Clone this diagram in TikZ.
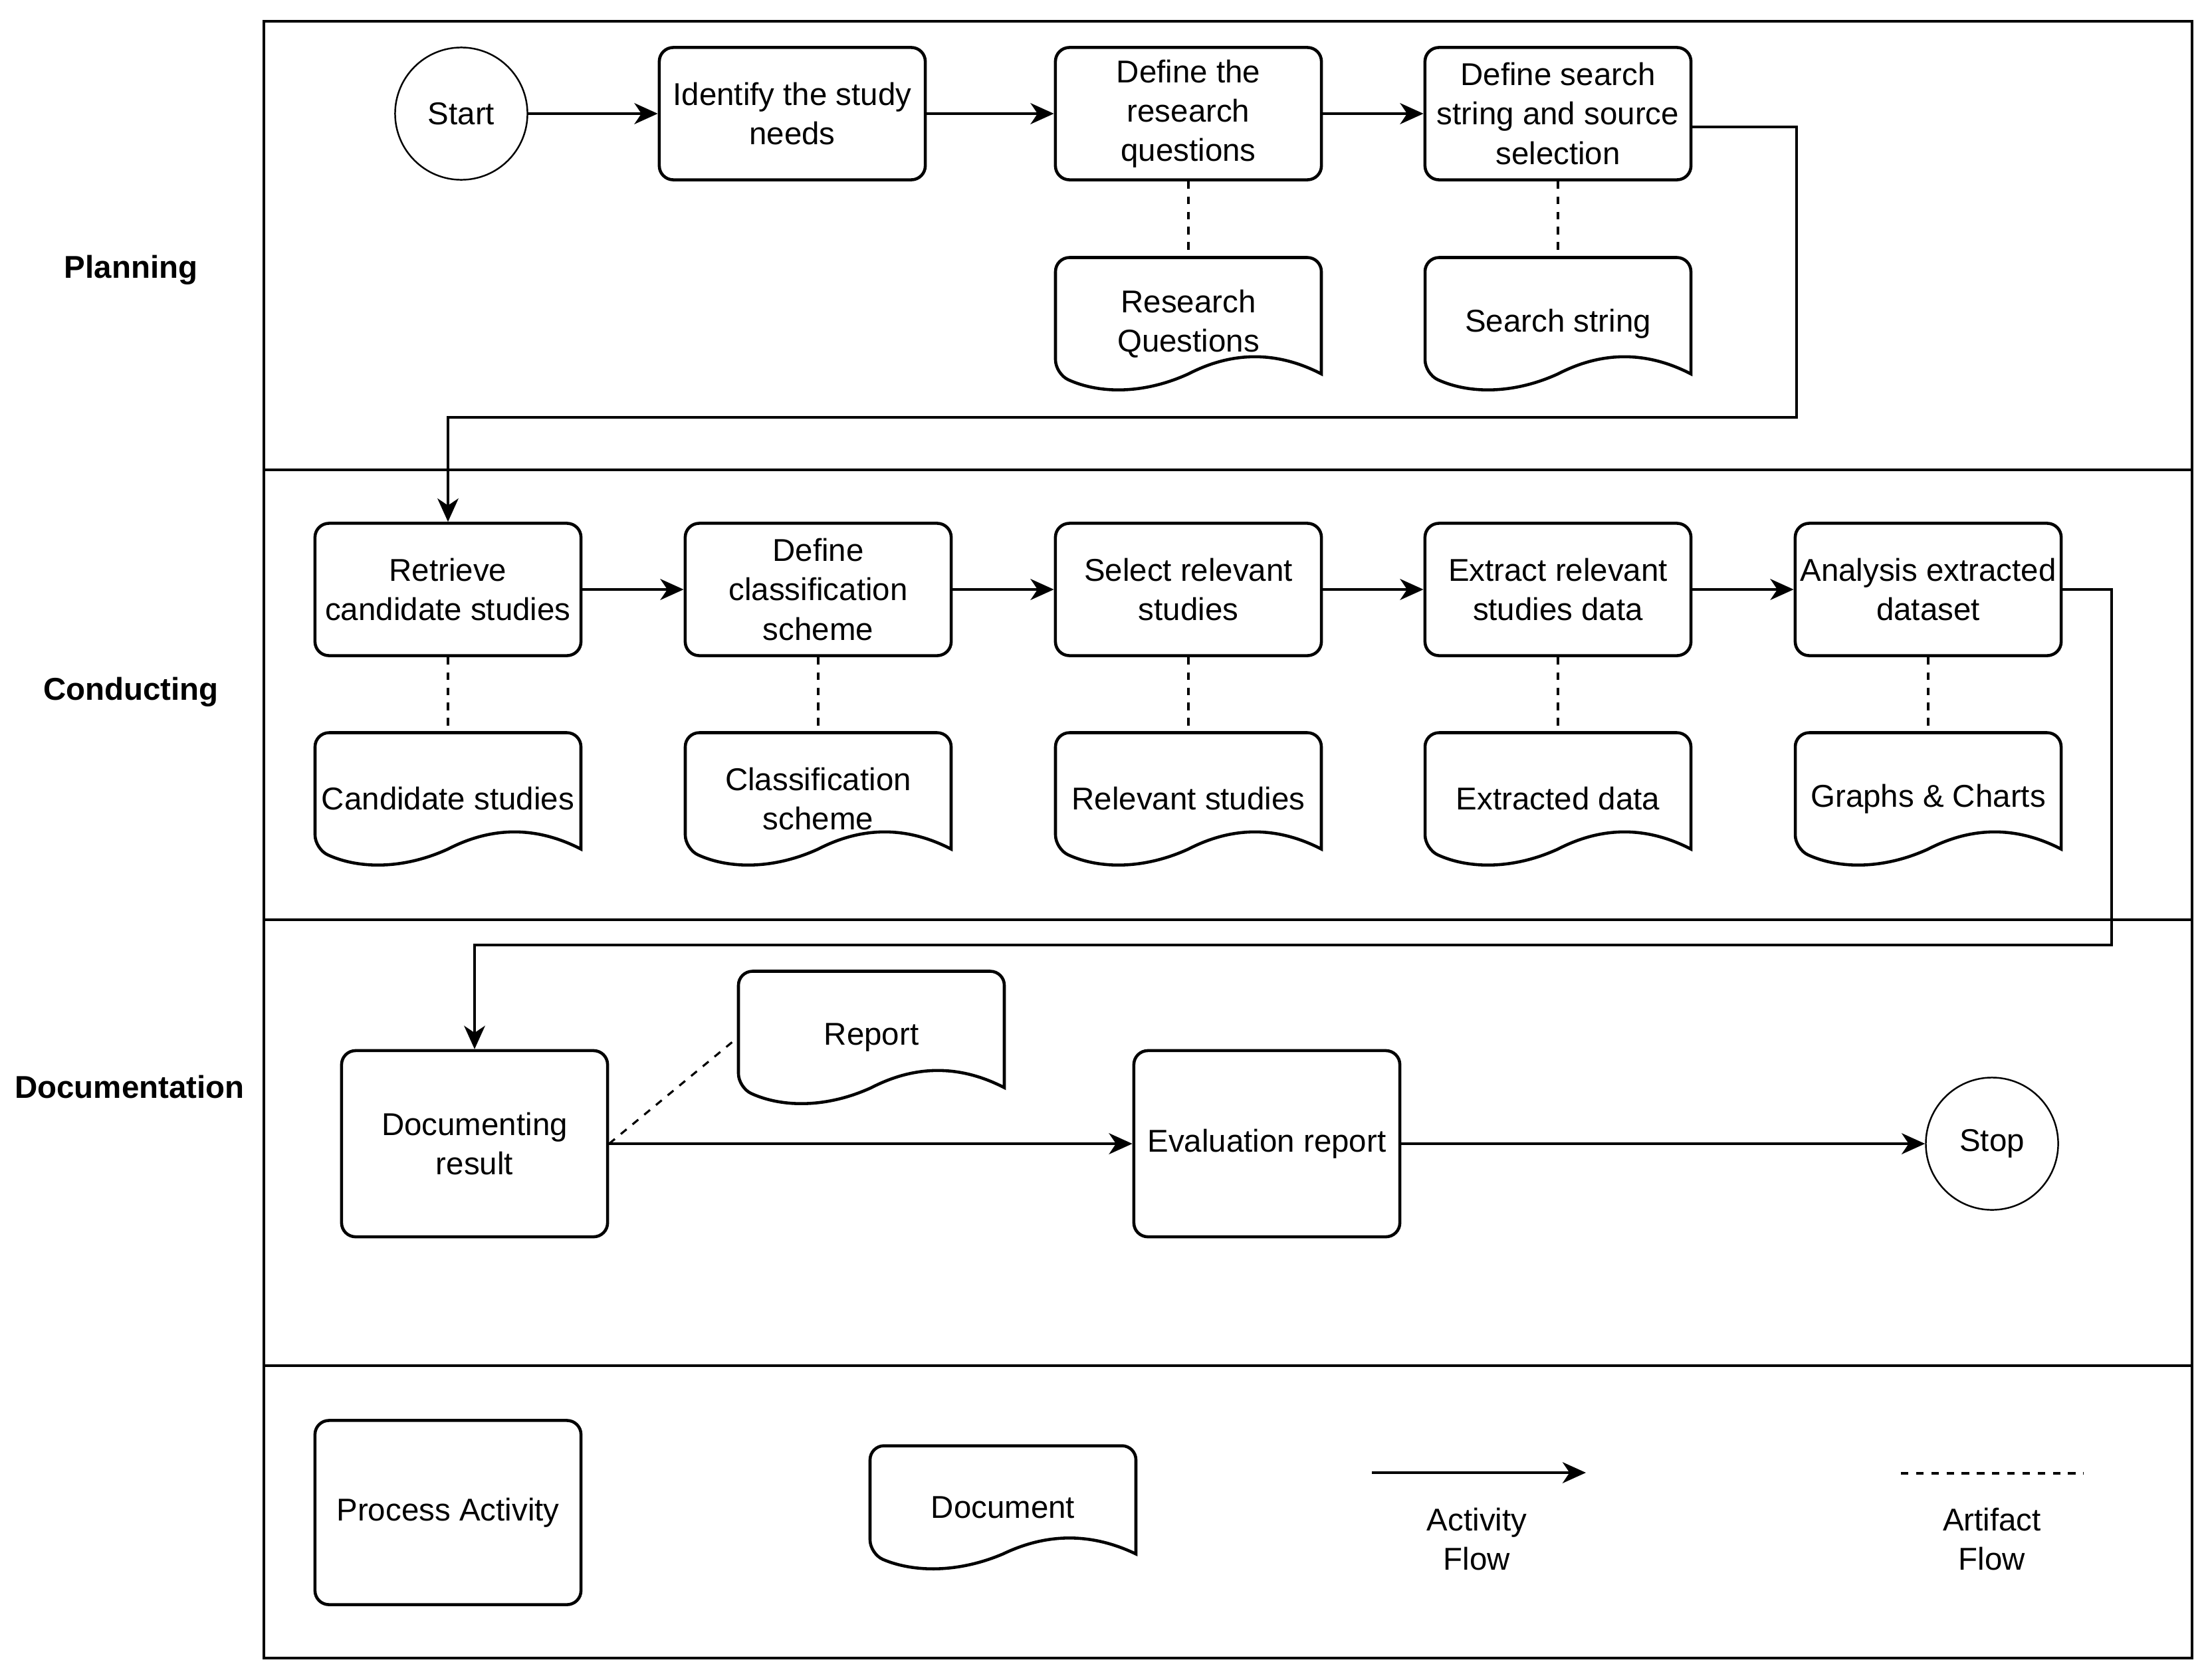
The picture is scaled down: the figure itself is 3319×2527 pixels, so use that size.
\documentclass[tikz,border=0pt]{standalone}
\usepackage{fontspec}
\setmainfont{Liberation Sans}
\usetikzlibrary{arrows.meta,calc}
\newcommand\dfont{\fontsize{13.5pt}{16.8pt}\selectfont}
\tikzset{
  proc/.style={draw, line width=1.3pt, rounded corners=6pt, minimum width=4cm,
    minimum height=1.99cm, align=center, inner sep=0pt},
  docbox/.style={minimum width=4cm, align=center, inner sep=0pt},
  docline/.style={line width=1.3pt},
  term/.style={draw, circle, line width=0.7pt, minimum size=1.99cm, inner sep=0pt},
  flow/.style={-{Stealth[length=10pt,width=9pt,inset=3pt]}, line width=1pt},
  artifact/.style={dash pattern=on 3.2pt off 3.3pt, line width=0.9pt},
  frameline/.style={line width=1.1pt},
  laneline/.style={line width=0.9pt},
  lanelabel/.style={font=\dfont\bfseries},
  legtext/.style={align=center}
}
% name, cx, cy, height(px), text
\newcommand\mkdoc[5]{%
  \node[docbox, minimum height=#4*0.01cm] (#1) at (#2,#3) {#5};
  \begin{scope}[shift={(#2,#3)}]
    \draw[docline] (200,{0.38*#4}) [rounded corners=6pt] -- (200,{-0.5*#4})
      -- (-200,{-0.5*#4}) -- (-200,{0.38*#4}) [sharp corners]
      .. controls (-133.3,{0.533*#4}) and (-66.7,{0.533*#4}) .. (0,{0.38*#4})
      .. controls (66.7,{0.207*#4}) and (133.3,{0.207*#4}) .. (200,{0.38*#4}) -- cycle;
  \end{scope}}
\begin{document}
\begin{tikzpicture}[x=0.01cm, y=-0.01cm, font=\dfont]
  \useasboundingbox (0,0) rectangle (3319,2527);
  \fill[white] (0,0) rectangle (3319,2527);

  % frame and lanes
  \draw[frameline] (397,32) rectangle (3298,2495);
  \draw[laneline] (397,707) -- (3298,707);
  \draw[laneline] (397,1384) -- (3298,1384);
  \draw[laneline] (397,2055) -- (3298,2055);

  \node[lanelabel] (lplan) at (197,406) {Planning};
  \node[lanelabel] (lcond) at (197,1041) {Conducting};
  \node[lanelabel] (ldocu) at (195,1636) {Documentation};

  % Planning
  \node[term] (start) at (694,171) {Start};
  \node[proc] (identify) at (1192,171) {Identify the study\\needs};
  \node[proc] (defrq) at (1788,171) {Define the\\research\\questions};
  \node[proc] (defsearch) at (2344,171) {Define search\\string and source\\selection};
  \mkdoc{rqdoc}{1788}{487}{199}{Research\\Questions}
  \mkdoc{ssdoc}{2344}{487}{199}{Search string}

  % Conducting
  \node[proc] (retrieve) at (674,887) {Retrieve\\candidate studies};
  \node[proc] (defclass) at (1231,887) {Define\\classification\\scheme};
  \node[proc] (select) at (1788,887) {Select relevant\\studies};
  \node[proc] (extract) at (2344,887) {Extract relevant\\studies data};
  \node[proc] (analysis) at (2901,887) {Analysis extracted\\dataset};
  \mkdoc{canddoc}{674}{1202}{199}{Candidate studies}
  \mkdoc{classdoc}{1231}{1202}{199}{Classification\\scheme}
  \mkdoc{reldoc}{1788}{1202}{199}{Relevant studies}
  \mkdoc{extdoc}{2344}{1202}{199}{Extracted data}
  \mkdoc{graphdoc}{2901}{1202}{199}{Graphs \& Charts}

  % Documentation
  \node[proc, minimum height=2.8cm] (documenting) at (714,1721) {Documenting\\result};
  \mkdoc{report}{1311}{1561}{199}{Report}
  \node[proc, minimum height=2.8cm] (evaluation) at (1906,1721) {Evaluation report};
  \node[term] (stop) at (2997,1721) {Stop};

  % Legend
  \node[proc, minimum height=2.77cm] (legproc) at (674,2276) {Process Activity};
  \mkdoc{legdoc}{1509}{2268}{185}{Document}
  \coordinate (afa) at (2064,2216);
  \coordinate (afb) at (2386,2216);
  \node[legtext] (aflabel) at (2222,2316) {Activity\\Flow};
  \coordinate (arta) at (2860,2217);
  \coordinate (artb) at (3135,2217);
  \node[legtext] (artlabel) at (2997,2316) {Artifact\\Flow};

  % activity flow
  \draw[flow] (start) -- (identify);
  \draw[flow] (identify) -- (defrq);
  \draw[flow] (defrq) -- (defsearch);
  \coordinate (r1) at (2703,628);
  \draw[flow] ([yshift=-0.2cm]defsearch.east) -| (r1) -| (retrieve.north);
  \draw[flow] (retrieve) -- (defclass);
  \draw[flow] (defclass) -- (select);
  \draw[flow] (select) -- (extract);
  \draw[flow] (extract) -- (analysis);
  \coordinate (r2) at (3177,1422);
  \draw[flow] (analysis.east) -| (r2) -| (documenting.north);
  \draw[flow] (documenting) -- (evaluation);
  \draw[flow] (evaluation) -- (stop);
  \draw[flow] (afa) -- (afb);

  % artifact flow
  \draw[artifact] (defrq.south) -- (rqdoc.north);
  \draw[artifact] (defsearch.south) -- (ssdoc.north);
  \draw[artifact] (retrieve.south) -- (canddoc.north);
  \draw[artifact] (defclass.south) -- (classdoc.north);
  \draw[artifact] (select.south) -- (reldoc.north);
  \draw[artifact] (extract.south) -- (extdoc.north);
  \draw[artifact] (analysis.south) -- (graphdoc.north);
  \draw[artifact] (documenting.east) -- (report.west);
  \draw[artifact] (arta) -- (artb);
\end{tikzpicture}
\end{document}
